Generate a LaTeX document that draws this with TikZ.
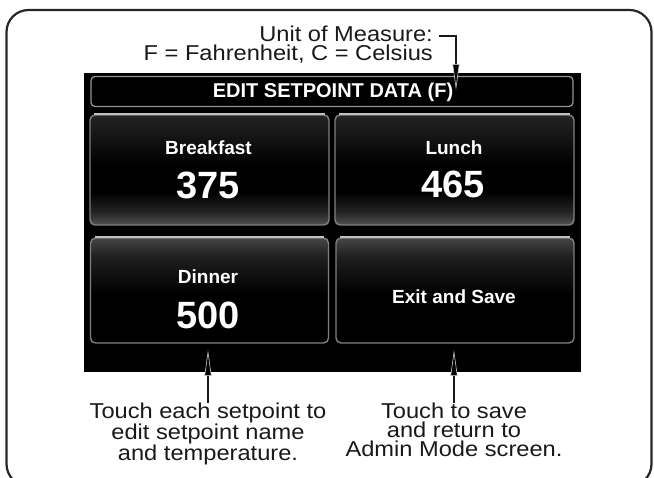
\documentclass[tikz,border=0pt]{standalone}
\usepackage{fontspec}
\setmainfont{Liberation Sans}
\newfontfamily\annotfont[FakeStretch=1.1]{Liberation Sans}
\usetikzlibrary{arrows.meta}
\pgfdeclareverticalshading{rowoneshade}{100bp}{color(0bp)=(white!32!black); color(25bp)=(white!32!black); color(31bp)=(white!14!black); color(40bp)=(black); color(52bp)=(black); color(75bp)=(white!14!black); color(100bp)=(white!14!black)}
\pgfdeclareverticalshading{rowtwoshade}{100bp}{color(0bp)=(black); color(25bp)=(black); color(48bp)=(black); color(66bp)=(white!12!black); color(75bp)=(white!27!black); color(100bp)=(white!27!black)}
\begin{document}
\begin{tikzpicture}[x=1pt,y=-1pt,
  frame/.style={draw=black!85, line width=2.2pt, rounded corners=22pt},
  screen/.style={fill=black, inner sep=0pt, minimum width=497pt, minimum height=299pt},
  hdr/.style={draw=white!58!black, line width=1.3pt, rounded corners=4pt, fill=black, inner sep=0pt, minimum width=482pt, minimum height=30pt},
  btn/.style={draw=white!50!black, line width=1.4pt, rounded corners=5pt, inner sep=0pt},
  rowone/.style={btn, minimum width=239pt, minimum height=110pt, shading=rowoneshade},
  rowtwo/.style={btn, minimum width=238pt, minimum height=105pt, shading=rowtwoshade},
  hilite/.style={draw=white!75!black, line width=1.7pt},
  hdrtext/.style={text=white, font=\bfseries\fontsize{20}{22}\selectfont, inner sep=0pt},
  lbl/.style={text=white, font=\bfseries\fontsize{19}{22}\selectfont, inner sep=0pt},
  num/.style={text=white, font=\bfseries\fontsize{38}{42}\selectfont, inner sep=0pt},
  annot/.style={text=black!90, font=\annotfont\fontsize{21.5}{19}\selectfont, inner sep=0pt},
  arr/.style={draw=black!90, line width=2pt, -{Triangle[length=26pt,width=7pt,color=white!80!black,fill=black,line width=0.6pt]}}
]
\useasboundingbox (0,0) rectangle (654,478);
\draw[frame] (6.5,10) rectangle (651.5,486);
\node[screen] (scr) at (332.5,222.5) {};
\node[hdr] (hdr) at (332,91.5) {};
\node[hdrtext] (hdrtxt) at (333,92) {EDIT SETPOINT DATA (F)};
\node[rowone] (bf) at (209.5,170) {};
\node[rowone] (lu) at (454.5,170) {};
\node[rowtwo] (di) at (209.5,290.5) {};
\node[rowtwo] (ex) at (455,290.5) {};
\draw[hilite] ([xshift=5pt]bf.north west) -- ([xshift=-5pt]bf.north east);
\draw[hilite] ([xshift=5pt]lu.north west) -- ([xshift=-5pt]lu.north east);
\draw[hilite] ([xshift=5pt]di.north west) -- ([xshift=-5pt]di.north east);
\draw[hilite] ([xshift=5pt]ex.north west) -- ([xshift=-5pt]ex.north east);
\node[lbl] (bft) at (208.5,148) {Breakfast};
\node[num] (bfn) at (208,185) {375};
\node[lbl] (lut) at (454,148) {Lunch};
\node[num] (lun) at (453,184) {465};
\node[lbl] (dit) at (208,277) {Dinner};
\node[num] (din) at (208,315) {500};
\node[lbl] (ext) at (454,297) {Exit and Save};
\node[annot, anchor=north east, align=right] (unit) at (433,25.5) {Unit of Measure:\\F = Fahrenheit, C = Celsius};
\coordinate (ua) at (439,36);
\coordinate (fT) at (456,90);
\draw[arr] (ua) -- (ua -| fT) -- (fT);
\node[annot, anchor=north, align=center] (t1) at (208,403) {Touch each setpoint to\\edit setpoint name\\and temperature.};
\node[annot, anchor=north, align=center] (t2) at (454,403) {Touch to save\\and return to\\Admin Mode screen.};
\coordinate (dT) at (208,350);
\coordinate (eT) at (454,350);
\draw[arr] (t1.north) -- (dT);
\draw[arr] (t2.north) -- (eT);
\end{tikzpicture}
\end{document}
